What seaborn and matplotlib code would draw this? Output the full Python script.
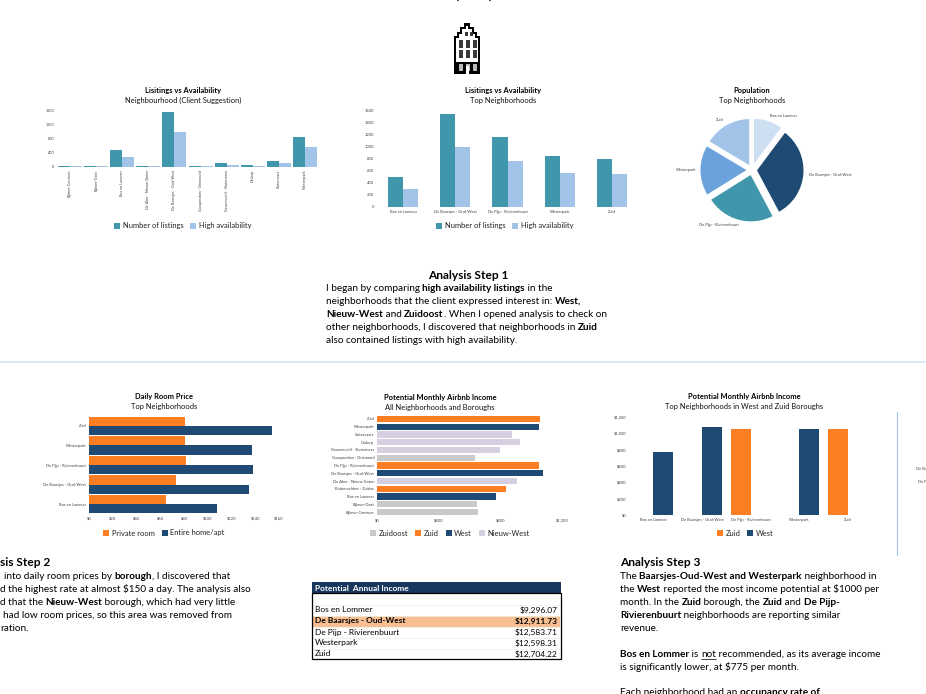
import matplotlib
matplotlib.use("Agg")
import matplotlib.pyplot as plt
from matplotlib.patches import Rectangle, Polygon
import numpy as np
import pandas as pd
import seaborn as sns

sns.set_theme(style="white")
plt.rcParams['font.family'] = ['Lato', 'DejaVu Sans']

TEAL = '#4097AC'
PALE = '#A2C4E9'
NAVY = '#1F4A73'
ORANGE = '#FE7F23'
GREY = '#C9C9C9'
LILAC = '#D6CFE2'
TICK = '#404040'

W, H = 926, 694

# chart 1
client_names = ['Bijlmer-Centrum', 'Bijlmer-Oost', 'Bos en Lommer', 'De Aker - Nieuw Sloten',
                'De Baarsjes - Oud-West', 'Gaasperdam - Driemond', 'Geuzenveld - Slotermeer',
                'Osdorp', 'Slotervaart', 'Westerpark']
client_listings = [40, 40, 490, 40, 1540, 40, 100, 70, 155, 840]
client_available = [35, 35, 290, 35, 990, 35, 70, 40, 125, 560]

# chart 2 and pie
top_names = ['Bos en Lommer', 'De Baarsjes - Oud-West', 'De Pijp - Rivierenbuurt', 'Westerpark', 'Zuid']
top_listings = [490, 1540, 1150, 840, 790]
top_available = [290, 990, 760, 560, 550]
pie_colors = ['#CFDFF2', NAVY, TEAL, '#6CA2DC', PALE]

# daily price
price_names = ['Zuid', 'Westerpark', 'De Pijp - Rivierenbuurt', 'De Baarsjes - Oud-West', 'Bos en Lommer']
price_private = [81, 80.5, 82, 73, 64.5]
price_entire = [154, 137.5, 138.5, 135, 108]

# monthly income, all neighbourhoods
all_names = ['Zuid', 'Westerpark', 'Slotervaart', 'Osdorp', 'Geuzenveld - Slotermeer',
             'Gaasperdam - Driemond', 'De Pijp - Rivierenbuurt', 'De Baarsjes - Oud-West',
             'De Aker - Nieuw Sloten', 'Buitenveldert - Zuidas', 'Bos en Lommer',
             'Bijlmer-Oost', 'Bijlmer-Centrum']
all_income = [1057, 1051, 876, 928, 798, 636, 1049, 1076, 908, 837, 775, 649, 655]
all_borough = ['Zuid', 'West', 'Nieuw-West', 'Nieuw-West', 'Nieuw-West', 'Zuidoost', 'Zuid', 'West',
               'Nieuw-West', 'Zuid', 'West', 'Zuidoost', 'Zuidoost']
borough_order = ['Zuidoost', 'Zuid', 'West', 'Nieuw-West']
borough_colors = [GREY, ORANGE, NAVY, LILAC]

# monthly income, top neighbourhoods
top_income = [775, 1076, 1049, 1050, 1059]
top_borough = ['West', 'West', 'Zuid', 'West', 'Zuid']

# table
table_names = ['Bos en Lommer', 'De Baarsjes - Oud-West', 'De Pijp - Rivierenbuurt', 'Westerpark', 'Zuid']
table_annual = ['$9,296.07', '$12,911.73', '$12,583.71', '$12,598.31', '$12,704.22']

fig = plt.figure(figsize=(W / 100, H / 100), dpi=100)

# full page layer in pixels for the text, rules, table and icon
page = fig.add_axes([0, 0, 1, 1], zorder=0)
page.set_xlim(0, W)
page.set_ylim(H, 0)
page.axis('off')


def axes_px(left, top, right, bottom):
    return fig.add_axes([left / W, 1 - bottom / H, (right - left) / W, (bottom - top) / H], zorder=2)


def finish(ax, tick_size=2.9):
    sns.despine(ax=ax, left=True, bottom=True)
    ax.set_xlabel('')
    ax.set_ylabel('')
    ax.grid(False)
    ax.tick_params(length=0, labelsize=tick_size, labelcolor=TICK, pad=2)
    ax.patch.set_alpha(0)


def chart_title(x, y, line1, line2):
    page.text(x, y, line1, ha='center', va='center', fontsize=5.4, fontweight='bold', color='black')
    page.text(x, y + 10, line2, ha='center', va='center', fontsize=5.4, color='#111111')


def chart_legend(ax, x, y):
    handles, labels = ax.get_legend_handles_labels()
    ax.legend(handles, labels, loc='center', bbox_to_anchor=(x / W, 1 - y / H), bbox_transform=fig.transFigure,
              ncol=len(labels), frameon=False, fontsize=5.4, handlelength=0.8, handleheight=0.8,
              handletextpad=0.35, columnspacing=0.9, labelcolor='#222222', borderpad=0)


def rich_line(x, y, parts, size=7.2):
    # parts is a list of (text, style), style '' / 'b' / 'u'
    renderer = fig.canvas.get_renderer()
    for text, style in parts:
        t = page.text(x, y, text + '|', ha='left', va='baseline', fontsize=size, color='black',
                      fontweight='bold' if style == 'b' else 'normal')
        # the bar keeps edge spaces in the measure, then gets taken out again
        adv = t.get_window_extent(renderer).width
        t.set_text('|')
        adv -= t.get_window_extent(renderer).width
        t.set_text(text)
        if style == 'u':
            page.plot([x, x + adv], [y + 1.5, y + 1.5], color='black', lw=0.5)
        x += adv


# Listings vs availability, client suggestion
df1 = pd.DataFrame({'name': client_names * 2,
                    'value': client_listings + client_available,
                    'kind': ['Number of listings'] * 10 + ['High availability'] * 10})
ax1 = axes_px(57, 110, 318, 167)
sns.barplot(data=df1, x='name', y='value', hue='kind', palette=[TEAL, PALE], width=0.92, saturation=1,
            linewidth=0, ax=ax1)
ax1.set_ylim(0, 1600)
ax1.set_yticks([0, 400, 800, 1200, 1600])
finish(ax1, 2.7)
ax1.tick_params(axis='x', labelrotation=90)
chart_legend(ax1, 183, 226)
chart_title(183, 90, 'Lisitings vs Availability', 'Neighbourhood (Client Suggestion)')

# Listings vs availability, top
df2 = pd.DataFrame({'name': top_names * 2,
                    'value': top_listings + top_available,
                    'kind': ['Number of listings'] * 5 + ['High availability'] * 5})
ax2 = axes_px(377, 110, 638, 207)
sns.barplot(data=df2, x='name', y='value', hue='kind', palette=[TEAL, PALE], width=0.58, saturation=1,
            linewidth=0, ax=ax2)
ax2.set_ylim(0, 1600)
ax2.set_yticks(np.arange(0, 1601, 200))
finish(ax2)
chart_legend(ax2, 505, 226)
chart_title(503, 90, 'Lisitings vs Availability', 'Top Neighborhoods')

# Population pie
ax3 = axes_px(692, 110, 812, 230)
ax3.pie(top_listings, colors=pie_colors, startangle=90, counterclock=False, radius=0.8,
        explode=[0.07] * 5, labels=None)
ax3.set_xlim(-1, 1)
ax3.set_ylim(-1, 1)
chart_title(752, 90, 'Population', 'Top Neighborhoods')
pie_labels = [(784, 116), (830, 175), (719, 225), (686, 170), (720, 120)]
for name, (lx, ly) in zip(top_names, pie_labels):
    page.text(lx, ly, name, ha='center', va='center', fontsize=2.9, color=TICK)

# Daily room price
df4 = pd.DataFrame({'name': price_names * 2,
                    'value': price_private + price_entire,
                    'kind': ['Private room'] * 5 + ['Entire home/apt'] * 5})
ax4 = axes_px(89, 416, 279, 514)
sns.barplot(data=df4, y='name', x='value', hue='kind', palette=[ORANGE, NAVY], width=0.93, saturation=1,
            linewidth=0, orient='h', ax=ax4)
ax4.set_xlim(0, 160)
ax4.set_xticks(np.arange(0, 161, 20))
ax4.set_xticklabels(['$%d' % v for v in np.arange(0, 161, 20)])
finish(ax4)
chart_legend(ax4, 164, 533)
chart_title(164, 396, 'Daily Room Price', 'Top Neighborhoods')

# Monthly income, all
df5 = pd.DataFrame({'name': all_names, 'value': all_income, 'borough': all_borough})
ax5 = axes_px(377, 415, 562, 516)
sns.barplot(data=df5, y='name', x='value', hue='borough', hue_order=borough_order, palette=borough_colors,
            dodge=False, width=0.8, saturation=1, linewidth=0, orient='h', ax=ax5)
ax5.set_xlim(0, 1200)
ax5.set_xticks([0, 400, 800, 1200])
ax5.set_xticklabels(['$0', '$400', '$800', '$1,200'])
finish(ax5)
chart_legend(ax5, 450, 533)
chart_title(440, 397, 'Potential Monthly Airbnb Income', 'All Neighborhoods and Boroughs')

# Monthly income, top
df6 = pd.DataFrame({'name': top_names, 'value': top_income, 'borough': top_borough})
ax6 = axes_px(629, 417, 872, 515)
sns.barplot(data=df6, x='name', y='value', hue='borough', hue_order=['Zuid', 'West'], palette=[ORANGE, NAVY],
            width=0.82, dodge=True, saturation=1, linewidth=0, ax=ax6)
ax6.set_ylim(0, 1200)
ax6.set_yticks(np.arange(0, 1201, 200))
ax6.set_yticklabels(['$0', '$200', '$400', '$600', '$800', '$1,000', '$1,200'])
finish(ax6)
chart_legend(ax6, 745, 533)
chart_title(744, 396, 'Potential Monthly Airbnb Income', 'Top Neighborhoods in West and Zuid Boroughs')

# rules
page.plot([0, W], [361.5, 361.5], color='#CFDFF2', lw=1.1)
page.plot([896.5, 896.5], [412, 555], color=PALE, lw=0.8)
page.text(916, 469, 'De Ba', fontsize=2.9, color=TICK, va='center')
page.text(918, 482, 'De P', fontsize=2.9, color=TICK, va='center')
page.plot([457, 458], [0.4, 0.4], color='#333333', lw=0.8)
page.plot([489, 490], [0.4, 0.4], color='#333333', lw=0.8)

# step 1
page.text(468.5, 279, 'Analysis Step 1', ha='center', va='baseline', fontsize=8.6, fontweight='bold', color='black')
rich_line(326, 291, [('I began by comparing ', ''), ('high availability listings', 'b'), (' in the', '')])
rich_line(326, 304, [('neighborhoods that the client expressed interest in: ', ''), ('West,', 'b')])
rich_line(326, 317, [('Nieuw-West', 'b'), (' and ', ''), ('Zuidoost', 'b'), ('. When I opened analysis to check on', '')])
rich_line(326, 330, [('other neighborhoods, I discovered that neighborhoods in ', ''), ('Zuid', 'b')])
rich_line(326, 343, [('also contained listings with high availability.', '')])

# step 2, cut by the left edge
page.text(0, 566, 'sis Step 2', ha='left', va='baseline', fontsize=8.6, fontweight='bold', color='black')
rich_line(4, 579, [('into daily room prices by ', ''), ('borough', 'b'), (', I discovered that', '')])
rich_line(0, 592, [('d the highest rate at almost $150 a day. The analysis also', '')])
rich_line(0, 605, [('d that the ', ''), ('Nieuw-West', 'b'), (' borough, which had very little', '')])
rich_line(3, 618, [('had low room prices, so this area was removed from', '')])
rich_line(0, 631, [('ration.', '')])

# step 3
page.text(620, 566, 'Analysis Step 3', ha='left', va='baseline', fontsize=8.6, fontweight='bold', color='black')
rich_line(620, 579, [('The ', ''), ('Baarsjes-Oud-West and Westerpark', 'b'), (' neighborhood in', '')])
rich_line(620, 592, [('the ', ''), ('West', 'b'), (' reported the most income potential at $1000 per', '')])
rich_line(620, 605, [('month. In the ', ''), ('Zuid', 'b'), (' borough, the ', ''), ('Zuid', 'b'), (' and ', ''), ('De Pijp-', 'b')])
rich_line(620, 618, [('Rivierenbuurt', 'b'), (' neighborhoods are reporting similar', '')])
rich_line(620, 631, [('revenue.', '')])
rich_line(620, 657, [('Bos en Lommer', 'b'), (' is ', ''), ('not', 'u'), (' recommended, as its average income', '')])
rich_line(620, 670, [('is significantly lower, at $775 per month.', '')])
rich_line(620, 695, [('Each neighborhood had an ', ''), ('occupancy rate of', 'b')])

# table
page.add_patch(Rectangle((312, 582), 249, 11, facecolor='#17375E', edgecolor='none', zorder=1))
page.text(315, 588.3, 'Potential  Annual Income', fontsize=6.0, fontweight='bold', color='white', va='center')
page.add_patch(Rectangle((312, 593), 249, 66, facecolor='none', edgecolor='black', lw=0.9, zorder=3))
for i, (name, amount) in enumerate(zip(table_names, table_annual)):
    y = 610 + 11 * i
    if i == 1:
        page.add_patch(Rectangle((313, y - 5.5), 247, 11, facecolor='#F8BF92', edgecolor='none', zorder=1))
    page.plot([313, 560], [y - 5.5, y - 5.5], color='#EEF0DE', lw=0.6, zorder=1)
    weight = 'bold' if i == 1 else 'normal'
    page.text(315, y, name, fontsize=6.0, color='black', va='center', fontweight=weight, zorder=2)
    page.text(558, y, amount, fontsize=6.0, color='black', va='center', ha='right', fontweight=weight, zorder=2)

# canal house icon
outline = [(454, 74), (454, 36), (457, 36), (457, 32), (460, 32), (460, 27), (464, 27), (464, 23),
           (470, 23), (470, 27), (474, 27), (474, 32), (477, 32), (477, 36), (480, 36), (480, 74)]
inner = [(456, 62), (456, 38), (459, 38), (459, 34), (462, 34), (462, 29), (466, 29), (466, 25.5),
         (468, 25.5), (468, 29), (472, 29), (472, 34), (475, 34), (475, 38), (478, 38), (478, 62)]
page.add_patch(Polygon(outline, closed=True, facecolor='black', edgecolor='none'))
page.add_patch(Polygon(inner, closed=True, facecolor='white', edgecolor='none'))
for wx in (459, 465.5, 472.5):
    for wy in (40, 50):
        page.add_patch(Rectangle((wx, wy), 4, 8, facecolor='#3A3A3A', edgecolor='none'))
    page.add_patch(Rectangle((wx, 63.5), 4, 7, facecolor='#B8B8B8', edgecolor='none'))
for wx in (465, 470):
    page.add_patch(Rectangle((wx, 31.5), 3, 4, facecolor='#3A3A3A', edgecolor='none'))
page.add_patch(Rectangle((465.5, 66), 3.5, 8, facecolor='white', edgecolor='none'))

plt.savefig('out.png', dpi=100)
